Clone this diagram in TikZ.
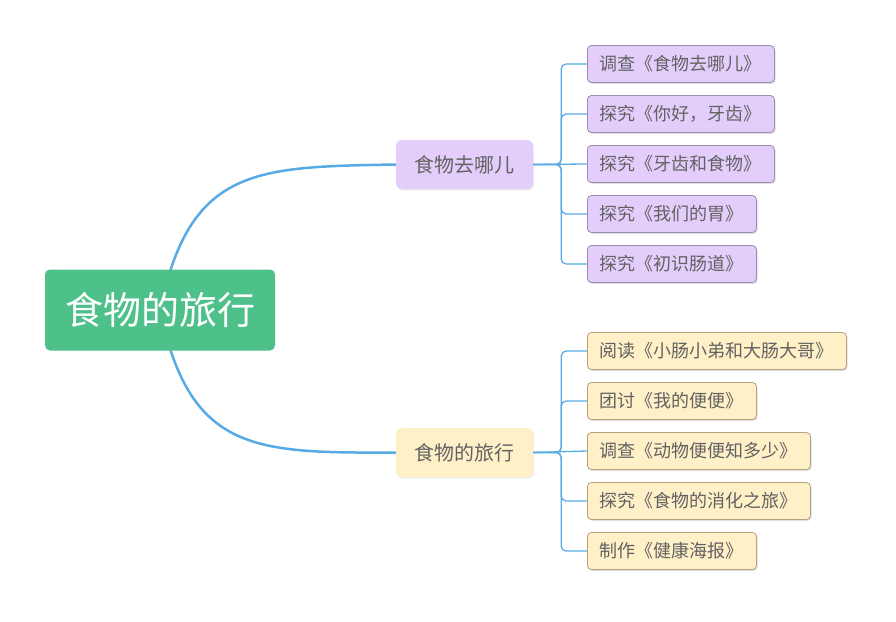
\documentclass[tikz,border=0pt]{standalone}
\usepackage{fontspec}
\newfontfamily\cjk{Noto Sans CJK SC}
\usetikzlibrary{positioning, shadows}

\definecolor{rootgreen}{HTML}{4EC18B}
\definecolor{linkblue}{HTML}{58AAE4}
\definecolor{lilac}{HTML}{E3CEFB}
\definecolor{lilacline}{HTML}{9C8CAE}
\definecolor{cream}{HTML}{FFF0C8}
\definecolor{creamline}{HTML}{B5A27E}
\definecolor{textgray}{HTML}{626262}

\begin{document}
\begin{tikzpicture}[
    x=1pt, y=1pt,
    font=\cjk,
    % 样式定义
    root_topic/.style={
        fill=rootgreen, rounded corners=5pt, text=white, font=\cjk\fontsize{38}{40}\selectfont,
        minimum width=230pt, minimum height=81pt, inner sep=0pt
    },
    main_topic/.style={
        rounded corners=6pt, text=textgray, font=\cjk\fontsize{20}{22}\selectfont,
        minimum width=137pt, minimum height=49pt, inner sep=0pt,
        drop shadow={shadow xshift=1pt, shadow yshift=-1.5pt, opacity=0.15}
    },
    sub_topic/.style={
        draw, line width=0.8pt, rounded corners=4pt, text=textgray,
        font=\cjk\fontsize{18}{20}\selectfont,
        minimum height=37pt, inner xsep=12.5pt, inner ysep=0pt,
        drop shadow={shadow xshift=1.2pt, shadow yshift=-1.5pt, opacity=0.25}
    },
    purple_sub/.style={sub_topic, fill=lilac, draw=lilacline},
    yellow_sub/.style={sub_topic, fill=cream, draw=creamline},
    main_link/.style={draw=linkblue, line width=2.5pt},
    sub_link/.style={draw=linkblue, line width=1.3pt, rounded corners=5pt}
]
    \useasboundingbox (0,0) rectangle (896,-621);

    % --- 主要连线 (在中心主题下面) ---
    \coordinate (root_c) at (160,-310);

    % --- 一级主题 ---
    \node[main_topic, fill=lilac] (where) at (464.5,-164.5) {食物去哪儿};
    \node[main_topic, fill=cream] (trip) at (464.5,-452.5) {食物的旅行};

    \draw[main_link] (root_c) .. controls (190,-167) and (255,-167) .. (where.west);
    \draw[main_link] (root_c) .. controls (190,-453) and (255,-453) .. (trip.west);

    % --- 中心主题 ---
    \node[root_topic] (root) at (root_c) {食物的旅行};

    % --- 二级主题: 食物去哪儿 ---
    \node[purple_sub, anchor=west] (where_a) at (587,-64) {调查《食物去哪儿》};
    \node[purple_sub, below=12.2pt of where_a.south west, anchor=north west] (where_b) {探究《你好，牙齿》};
    \node[purple_sub, below=12.2pt of where_b.south west, anchor=north west] (where_c) {探究《牙齿和食物》};
    \node[purple_sub, below=12.2pt of where_c.south west, anchor=north west] (where_d) {探究《我们的胃》};
    \node[purple_sub, below=12.2pt of where_d.south west, anchor=north west] (where_e) {探究《初识肠道》};

    \draw[sub_link] (where.east) -- ++(28,0) |- (where_a.west);
    \draw[sub_link] (where.east) -- ++(28,0) |- (where_b.west);
    \draw[sub_link] (where.east) -- (where_c.west);
    \draw[sub_link] (where.east) -- ++(28,0) |- (where_d.west);
    \draw[sub_link] (where.east) -- ++(28,0) |- (where_e.west);

    % --- 二级主题: 食物的旅行 ---
    \node[yellow_sub, anchor=west] (trip_a) at (587,-351) {阅读《小肠小弟和大肠大哥》};
    \node[yellow_sub, below=12.2pt of trip_a.south west, anchor=north west] (trip_b) {团讨《我的便便》};
    \node[yellow_sub, below=12.2pt of trip_b.south west, anchor=north west] (trip_c) {调查《动物便便知多少》};
    \node[yellow_sub, below=12.2pt of trip_c.south west, anchor=north west] (trip_d) {探究《食物的消化之旅》};
    \node[yellow_sub, below=12.2pt of trip_d.south west, anchor=north west] (trip_e) {制作《健康海报》};

    \draw[sub_link] (trip.east) -- ++(28,0) |- (trip_a.west);
    \draw[sub_link] (trip.east) -- ++(28,0) |- (trip_b.west);
    \draw[sub_link] (trip.east) -- (trip_c.west);
    \draw[sub_link] (trip.east) -- ++(28,0) |- (trip_d.west);
    \draw[sub_link] (trip.east) -- ++(28,0) |- (trip_e.west);

\end{tikzpicture}
\end{document}
